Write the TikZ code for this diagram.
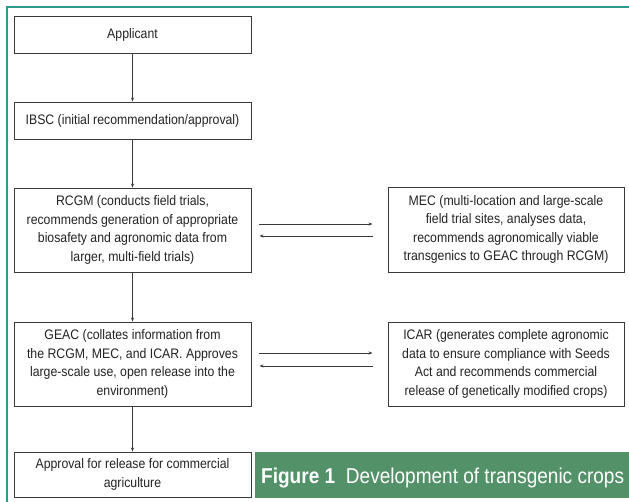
\documentclass[tikz,border=0pt]{standalone}
\usepackage{fontspec}
\setmainfont{Liberation Sans}
\newfontfamily\boxfont[FakeStretch=0.89]{Liberation Sans}
\newfontfamily\bannerfont[FakeStretch=0.885]{Liberation Sans}
\usetikzlibrary{arrows.meta,calc}
\definecolor{frameteal}{HTML}{2E9A8E}
\definecolor{bannergreen}{HTML}{539169}
\definecolor{boxline}{HTML}{3A3A3A}
\definecolor{txt}{HTML}{222222}
\tikzset{
  box/.style={draw=boxline, line width=0.9pt, rectangle, align=center, inner sep=2pt,
    text=txt, font=\boxfont\fontsize{13.8}{18.5}\selectfont},
  wbox/.style={box, minimum width=237pt},
  rbox/.style={box, minimum width=236pt},
  arr/.style={draw=boxline, line width=0.8pt, -{Stealth[length=4pt,width=3pt]}},
}
\begin{document}
\begin{tikzpicture}[x=1pt,y=1pt]
\useasboundingbox (0,0) rectangle (629,-502);
% frame
\draw[frameteal, line width=2pt] (7,-502) -- (7,-7) -- (629,-7);
% nodes
\node[wbox, minimum height=37pt] (app) at (132.5,-34.5) {Applicant};
\node[wbox, minimum height=37pt] (ibsc) at (132.5,-120.5) {IBSC (initial recommendation/approval)};
\node[wbox, minimum height=84pt] (rcgm) at (132.5,-230) {RCGM (conducts field trials,\\recommends generation of appropriate\\biosafety and agronomic data from\\larger, multi-field trials)};
\node[rbox, minimum height=85pt] (mec) at (506,-229.5) {MEC (multi-location and large-scale\\field trial sites, analyses data,\\recommends agronomically viable\\transgenics to GEAC through RCGM)};
\node[wbox, minimum height=84pt] (geac) at (132.5,-364) {GEAC (collates information from\\the RCGM, MEC, and ICAR. Approves\\large-scale use, open release into the\\environment)};
\node[rbox, minimum height=84pt] (icar) at (506,-364) {ICAR (generates complete agronomic\\data to ensure compliance with Seeds\\Act and recommends commercial\\release of genetically modified crops)};
\node[wbox, minimum height=45pt] (appr) at (132.5,-474.5) {Approval for release for commercial\\agriculture};
% banner
\fill[bannergreen] (255,-452) rectangle (629,-498);
\node[anchor=base west, inner sep=0, text=white, font=\bannerfont\fontsize{21.5}{24}\selectfont] (cap) at (261,-483)
  {\textbf{Figure 1}\hspace{0.5em}Development of transgenic crops};
% vertical arrows
\draw[arr] (app) -- (ibsc);
\draw[arr] (ibsc) -- (rcgm);
\draw[arr] (rcgm) -- (geac);
\draw[arr] (geac) -- (appr);
% horizontal arrows
\draw[arr, shorten <=8pt, shorten >=15pt] ([yshift=6pt]rcgm.east) -- ([yshift=6pt]rcgm.east -| mec.west);
\draw[arr, shorten <=15pt, shorten >=8pt] ([yshift=-6pt]rcgm.east -| mec.west) -- ([yshift=-6pt]rcgm.east);
\draw[arr, shorten <=8pt, shorten >=15pt] ([yshift=11pt]geac.east) -- ([yshift=11pt]geac.east -| icar.west);
\draw[arr, shorten <=15pt, shorten >=8pt] ([yshift=-2pt]geac.east -| icar.west) -- ([yshift=-2pt]geac.east);
\end{tikzpicture}
\end{document}
